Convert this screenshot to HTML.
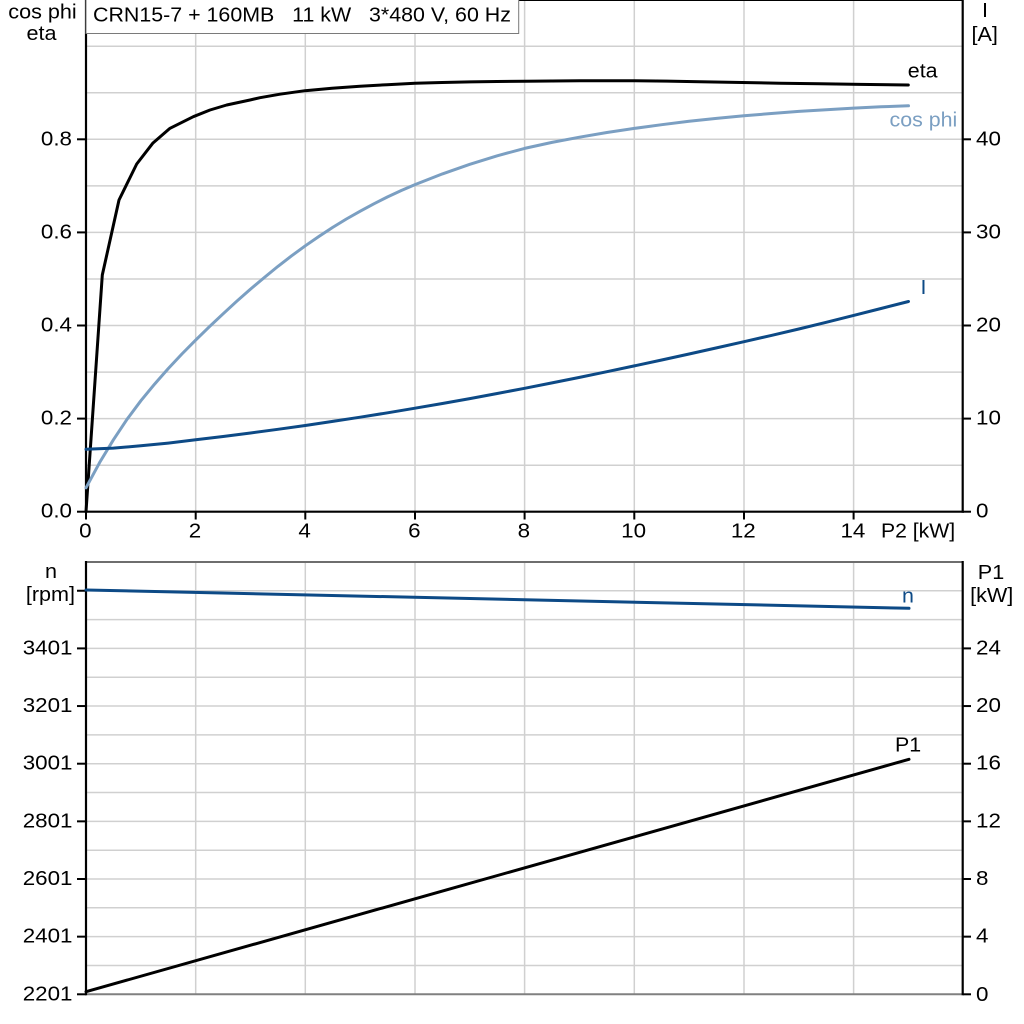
<!DOCTYPE html>
<html><head><meta charset="utf-8"><style>
html,body{margin:0;padding:0;background:#fff;}
svg{display:block;}
text{font-family:"Liberation Sans",Arial,sans-serif;font-size:20px;fill:#000;}
</style></head><body>
<svg width="1024" height="1024" viewBox="0 0 1024 1024" xmlns="http://www.w3.org/2000/svg">
<rect x="0" y="0" width="1024" height="1024" fill="#fff"/>
<!-- TOP CHART GRID -->
<g stroke="#d0d0d0" stroke-width="1.5" fill="none">
<line x1="195.7" y1="0" x2="195.7" y2="511.7"/>
<line x1="305.3" y1="0" x2="305.3" y2="511.7"/>
<line x1="415.0" y1="0" x2="415.0" y2="511.7"/>
<line x1="524.6" y1="0" x2="524.6" y2="511.7"/>
<line x1="634.3" y1="0" x2="634.3" y2="511.7"/>
<line x1="744.0" y1="0" x2="744.0" y2="511.7"/>
<line x1="853.6" y1="0" x2="853.6" y2="511.7"/>
<line x1="86" y1="465.2" x2="963" y2="465.2"/>
<line x1="86" y1="418.6" x2="963" y2="418.6"/>
<line x1="86" y1="372.1" x2="963" y2="372.1"/>
<line x1="86" y1="325.5" x2="963" y2="325.5"/>
<line x1="86" y1="279.0" x2="963" y2="279.0"/>
<line x1="86" y1="232.4" x2="963" y2="232.4"/>
<line x1="86" y1="185.9" x2="963" y2="185.9"/>
<line x1="86" y1="139.3" x2="963" y2="139.3"/>
<line x1="86" y1="92.8" x2="963" y2="92.8"/>
<line x1="86" y1="46.3" x2="963" y2="46.3"/>
</g>
<!-- BOTTOM CHART GRID -->
<g stroke="#d0d0d0" stroke-width="1.5" fill="none">
<line x1="195.7" y1="562" x2="195.7" y2="994.3"/>
<line x1="305.3" y1="562" x2="305.3" y2="994.3"/>
<line x1="415.0" y1="562" x2="415.0" y2="994.3"/>
<line x1="524.6" y1="562" x2="524.6" y2="994.3"/>
<line x1="634.3" y1="562" x2="634.3" y2="994.3"/>
<line x1="744.0" y1="562" x2="744.0" y2="994.3"/>
<line x1="853.6" y1="562" x2="853.6" y2="994.3"/>
<line x1="86" y1="965.5" x2="963" y2="965.5"/>
<line x1="86" y1="936.65" x2="963" y2="936.65"/>
<line x1="86" y1="907.8" x2="963" y2="907.8"/>
<line x1="86" y1="879.0" x2="963" y2="879.0"/>
<line x1="86" y1="850.2" x2="963" y2="850.2"/>
<line x1="86" y1="821.35" x2="963" y2="821.35"/>
<line x1="86" y1="792.5" x2="963" y2="792.5"/>
<line x1="86" y1="763.7" x2="963" y2="763.7"/>
<line x1="86" y1="734.9" x2="963" y2="734.9"/>
<line x1="86" y1="706.05" x2="963" y2="706.05"/>
<line x1="86" y1="677.2" x2="963" y2="677.2"/>
<line x1="86" y1="648.4" x2="963" y2="648.4"/>
<line x1="86" y1="619.6" x2="963" y2="619.6"/>
<line x1="86" y1="590.75" x2="963" y2="590.75"/>
</g>

<!-- TOP CHART FRAME -->
<line x1="86" y1="0.5" x2="963" y2="0.5" stroke="#000" stroke-width="1"/>
<line x1="86" y1="0" x2="86" y2="512.7" stroke="#000" stroke-width="2.2"/>
<line x1="962.7" y1="0" x2="962.7" y2="512.7" stroke="#000" stroke-width="2.2"/>
<line x1="85" y1="511.7" x2="963.8" y2="511.7" stroke="#000" stroke-width="2.2"/>
<!-- top ticks -->
<g stroke="#000" stroke-width="2">
<line x1="77" y1="511.7" x2="86" y2="511.7"/>
<line x1="77" y1="418.6" x2="86" y2="418.6"/>
<line x1="77" y1="325.5" x2="86" y2="325.5"/>
<line x1="77" y1="232.4" x2="86" y2="232.4"/>
<line x1="77" y1="139.3" x2="86" y2="139.3"/>
<line x1="963" y1="511.7" x2="971" y2="511.7"/>
<line x1="963" y1="418.6" x2="971" y2="418.6"/>
<line x1="963" y1="325.5" x2="971" y2="325.5"/>
<line x1="963" y1="232.4" x2="971" y2="232.4"/>
<line x1="963" y1="139.3" x2="971" y2="139.3"/>
<line x1="86" y1="511.7" x2="86" y2="519.5"/>
<line x1="195.7" y1="511.7" x2="195.7" y2="519.5"/>
<line x1="305.3" y1="511.7" x2="305.3" y2="519.5"/>
<line x1="415.0" y1="511.7" x2="415.0" y2="519.5"/>
<line x1="524.6" y1="511.7" x2="524.6" y2="519.5"/>
<line x1="634.3" y1="511.7" x2="634.3" y2="519.5"/>
<line x1="744.0" y1="511.7" x2="744.0" y2="519.5"/>
<line x1="853.6" y1="511.7" x2="853.6" y2="519.5"/>
</g>

<!-- BOTTOM CHART FRAME -->
<line x1="86" y1="562" x2="963" y2="562" stroke="#6e6e6e" stroke-width="2"/>
<line x1="86" y1="994.3" x2="963" y2="994.3" stroke="#808080" stroke-width="2"/>
<line x1="86" y1="561" x2="86" y2="995.3" stroke="#000" stroke-width="2.2"/>
<line x1="962.7" y1="561" x2="962.7" y2="995.3" stroke="#000" stroke-width="2.2"/>
<g stroke="#000" stroke-width="2">
<line x1="77" y1="994.3" x2="86" y2="994.3"/>
<line x1="77" y1="936.65" x2="86" y2="936.65"/>
<line x1="77" y1="879.0" x2="86" y2="879.0"/>
<line x1="77" y1="821.35" x2="86" y2="821.35"/>
<line x1="77" y1="763.7" x2="86" y2="763.7"/>
<line x1="77" y1="706.05" x2="86" y2="706.05"/>
<line x1="77" y1="648.4" x2="86" y2="648.4"/>
<line x1="77" y1="590.75" x2="86" y2="590.75"/>
<line x1="963" y1="994.3" x2="971" y2="994.3"/>
<line x1="963" y1="936.65" x2="971" y2="936.65"/>
<line x1="963" y1="879.0" x2="971" y2="879.0"/>
<line x1="963" y1="821.35" x2="971" y2="821.35"/>
<line x1="963" y1="763.7" x2="971" y2="763.7"/>
<line x1="963" y1="706.05" x2="971" y2="706.05"/>
<line x1="963" y1="648.4" x2="971" y2="648.4"/>
</g>

<!-- Title box -->
<rect x="86" y="-0.5" width="432.7" height="34" fill="#fff" stroke="#7a7a7a" stroke-width="1"/>
<text transform="translate(93 21.7) scale(1.07 1)" style="white-space:pre">CRN15-7 + 160MB   11 kW   3*480 V, 60 Hz</text>

<!-- CURVES TOP -->
<polyline fill="none" stroke="#000" stroke-width="3" stroke-linejoin="round" stroke-linecap="round"
points="86,511.7 102.3,275 119,200 136.7,164 152.7,143.3 170,128.3 193.3,116.7 210,110 226.7,105 250,100 260,97.7 280,94.2 305,90.7 332,88.3 360,86.3 387,84.7 415,83.3 442,82.5 470,81.9 497,81.5 524.7,81.2 552,81 580,80.8 607,80.7 634.3,80.7 667,81.1 700,81.7 742,82.5 780,83.2 820,83.8 860,84.4 908.3,85"/>
<polyline fill="none" stroke="#7b9fc2" stroke-width="3" stroke-linejoin="round" stroke-linecap="round"
points="86,487.8 99.7,462.4 113.4,439.8 127.1,419.2 140.8,400.8 154.5,384.2 168.2,368.6 181.9,354.0 195.7,340.1 209.4,326.7 223.1,313.8 236.8,301.2 250.5,289.1 264.2,277.6 277.9,266.4 291.6,255.8 305.3,245.8 319,236.4 332.7,227.4 346.4,219.0 360.2,211.2 373.9,203.8 387.6,196.9 401.3,190.5 415,184.6 442.4,173.9 469.8,164.3 497.2,155.8 524.6,148.4 552,142.4 579.5,137.2 606.9,132.5 634.3,128.4 661.7,124.7 689.1,121.3 716.5,118.4 744,115.8 771.4,113.5 798.8,111.4 826.2,109.7 853.6,108.1 881,106.8 908.5,105.8"/>
<polyline fill="none" stroke="#0d4a86" stroke-width="3" stroke-linejoin="round" stroke-linecap="round"
points="86,449.3 113.4,448.1 140.8,445.8 168.2,443.1 195.7,439.8 223.1,436.5 250.5,433 277.9,429.3 305.3,425.5 332.7,421.4 360.2,417.2 387.6,412.8 415,408.2 442.4,403.5 469.8,398.6 497.2,393.5 524.6,388.3 552,382.9 579.5,377.4 606.9,371.7 634.3,365.9 661.7,360 689.1,354 716.5,347.9 744,341.7 771.4,335.4 798.8,329 826.2,322.3 853.6,315.4 881,308.5 908.5,301.5"/>

<!-- CURVES BOTTOM -->
<line x1="86" y1="590" x2="909" y2="608.3" stroke="#0d4a86" stroke-width="3" stroke-linecap="round"/>
<line x1="86" y1="991.7" x2="909" y2="759.3" stroke="#000" stroke-width="3" stroke-linecap="round"/>

<!-- TICK LABELS -->
<g text-anchor="end">
<text transform="translate(72 517.7) scale(1.12 1)">0.0</text>
<text transform="translate(72 424.6) scale(1.12 1)">0.2</text>
<text transform="translate(72 331.5) scale(1.12 1)">0.4</text>
<text transform="translate(72 238.4) scale(1.12 1)">0.6</text>
<text transform="translate(72 145.3) scale(1.12 1)">0.8</text>
<text transform="translate(72.5 1000.3) scale(1.12 1)">2201</text>
<text transform="translate(72.5 942.65) scale(1.12 1)">2401</text>
<text transform="translate(72.5 885) scale(1.12 1)">2601</text>
<text transform="translate(72.5 827.35) scale(1.12 1)">2801</text>
<text transform="translate(72.5 769.7) scale(1.12 1)">3001</text>
<text transform="translate(72.5 712.05) scale(1.12 1)">3201</text>
<text transform="translate(72.5 654.4) scale(1.12 1)">3401</text>
</g>
<g text-anchor="start">
<text transform="translate(976 517.7) scale(1.12 1)">0</text>
<text transform="translate(976 424.6) scale(1.12 1)">10</text>
<text transform="translate(976 331.5) scale(1.12 1)">20</text>
<text transform="translate(976 238.4) scale(1.12 1)">30</text>
<text transform="translate(976 145.3) scale(1.12 1)">40</text>
<text transform="translate(976 1000.8) scale(1.12 1)">0</text>
<text transform="translate(976 942.65) scale(1.12 1)">4</text>
<text transform="translate(976 885) scale(1.12 1)">8</text>
<text transform="translate(976 827.35) scale(1.12 1)">12</text>
<text transform="translate(976 769.7) scale(1.12 1)">16</text>
<text transform="translate(976 712.05) scale(1.12 1)">20</text>
<text transform="translate(976 654.4) scale(1.12 1)">24</text>
</g>
<g text-anchor="middle">
<text transform="translate(85.3 537.5) scale(1.12 1)">0</text>
<text transform="translate(195 537.5) scale(1.12 1)">2</text>
<text transform="translate(304.6 537.5) scale(1.12 1)">4</text>
<text transform="translate(414.3 537.5) scale(1.12 1)">6</text>
<text transform="translate(523.9 537.5) scale(1.12 1)">8</text>
<text transform="translate(633.6 537.5) scale(1.12 1)">10</text>
<text transform="translate(743.3 537.5) scale(1.12 1)">12</text>
<text transform="translate(852.9 537.5) scale(1.12 1)">14</text>
</g>
<text transform="translate(881 537.7) scale(1.06 1)">P2 [kW]</text>

<!-- AXIS TITLES -->
<g text-anchor="middle">
<text transform="translate(42.5 18.5) scale(1.08 1)">cos phi</text>
<text transform="translate(41.5 40) scale(1.08 1)">eta</text>
<text transform="translate(985 17) scale(1.08 1)">I</text>
<text transform="translate(984.7 41) scale(1.08 1)">[A]</text>
<text transform="translate(51 578) scale(1.08 1)">n</text>
<text transform="translate(50.4 601) scale(1.08 1)">[rpm]</text>
<text transform="translate(991 579) scale(1.08 1)">P1</text>
<text transform="translate(991.7 602) scale(1.08 1)">[kW]</text>
</g>

<!-- CURVE LABELS -->
<text transform="translate(907.8 77.3) scale(1.07 1)">eta</text>
<text transform="translate(889.5 126.7) scale(1.07 1)" style="fill:#7b9fc2">cos phi</text>
<text transform="translate(920.5 294) scale(1.07 1)" style="fill:#0d4a86">I</text>
<text transform="translate(902 602.7) scale(1.07 1)" style="fill:#0d4a86">n</text>
<text transform="translate(895 751.7) scale(1.07 1)">P1</text>
</svg>
</body></html>
